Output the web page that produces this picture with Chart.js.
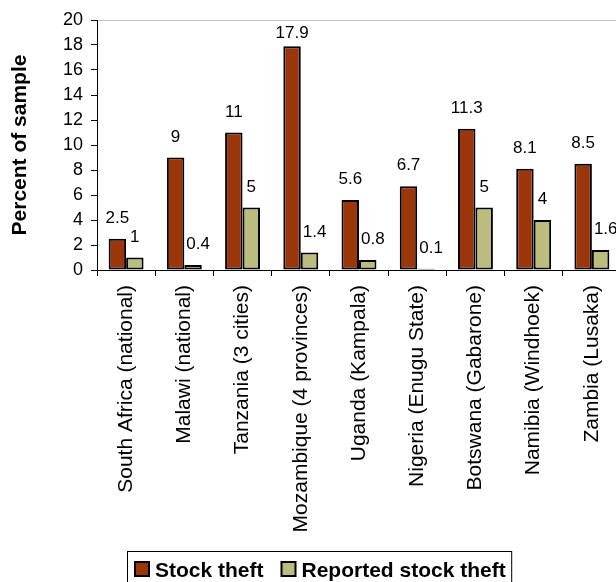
<!DOCTYPE html>
<html lang="en">
<head>
    <meta charset="UTF-8">
    <title>Stock theft by survey</title>
    <style>
        * {
            margin: 0;
            padding: 0;
            box-sizing: border-box;
        }
        body {
            width: 616px;
            height: 582px;
            overflow: hidden;
            background-color: #fff;
        }
        .wrap {
            width: 640px;
            height: 582px;
        }
    </style>
</head>
<body>
    <div class="wrap">
        <canvas id="theftChart" width="640" height="582"></canvas>
    </div>

    <script src="https://cdn.jsdelivr.net/npm/chart.js"></script>
    <script>
        const categories = [
            'South Africa (national)',
            'Malawi (national)',
            'Tanzania (3 cities)',
            'Mozambique (4 provinces)',
            'Uganda (Kampala)',
            'Nigeria (Enugu State)',
            'Botswana (Gabarone)',
            'Namibia (Windhoek)',
            'Zambia (Lusaka)'
        ];
        const stockTheft = [2.5, 9, 11, 17.9, 5.6, 6.7, 11.3, 8.1, 8.5];
        const reportedTheft = [1, 0.4, 5, 1.4, 0.8, 0.1, 5, 4, 1.6];
        const yTicks = [0, 2, 4, 6, 8, 10, 12, 14, 16, 18, 20];

        const FONT = '"Liberation Sans", Arial, sans-serif';

        // value labels above each bar
        const valueLabels = {
            id: 'valueLabels',
            afterDatasetsDraw(chart) {
                const ctx = chart.ctx;
                const top = chart.chartArea.top;
                ctx.save();
                ctx.font = '17px ' + FONT;
                ctx.fillStyle = '#000';
                ctx.textAlign = 'left';
                ctx.textBaseline = 'alphabetic';
                chart.data.datasets.forEach((ds, i) => {
                    chart.getDatasetMeta(i).data.forEach((bar, j) => {
                        const text = String(ds.data[j]);
                        const w = ctx.measureText(text).width;
                        let x = bar.x - w / 2;
                        if (i === 1 && w > bar.width) x = bar.x - bar.width / 2 + 2;
                        const y = Math.max(bar.y - 16, top + 18);
                        ctx.fillText(text, x, y);
                    });
                });
                ctx.restore();
            }
        };

        // boxed legend under the axis labels
        const boxLegend = {
            id: 'boxLegend',
            afterDraw(chart) {
                const ctx = chart.ctx;
                const left = 127.5, boxTop = 551.5, size = 14;
                let x = 135;
                ctx.save();
                ctx.font = 'bold 21px ' + FONT;
                ctx.textBaseline = 'alphabetic';
                chart.data.datasets.forEach(ds => {
                    ctx.fillStyle = ds.backgroundColor;
                    ctx.fillRect(x, 562, size, size);
                    ctx.lineWidth = 2;
                    ctx.strokeStyle = '#000';
                    ctx.strokeRect(x, 562, size, size);
                    x += size + 6;
                    ctx.fillStyle = '#000';
                    ctx.fillText(ds.label, x, 577);
                    x += ctx.measureText(ds.label).width + 18;
                });
                const right = x - 18 + 6;
                ctx.lineWidth = 1;
                ctx.strokeStyle = '#000';
                ctx.strokeRect(left, boxTop, right - left, 60);
                ctx.restore();
            }
        };

        const ctx = document.getElementById('theftChart').getContext('2d');
        const theftChart = new Chart(ctx, {
            type: 'bar',
            data: {
                labels: categories,
                datasets: [{
                    label: 'Stock theft',
                    data: stockTheft,
                    backgroundColor: '#9a360a',
                    borderColor: '#000',
                    borderWidth: 2,
                    borderSkipped: false,
                    categoryPercentage: 0.6,
                    barPercentage: 1
                }, {
                    label: 'Reported stock theft',
                    data: reportedTheft,
                    backgroundColor: '#bbbc7e',
                    borderColor: '#000',
                    borderWidth: 2,
                    borderSkipped: false,
                    categoryPercentage: 0.6,
                    barPercentage: 1
                }]
            },
            options: {
                responsive: false,
                animation: false,
                layout: {
                    padding: { top: 20, right: 19, bottom: 0, left: 0 }
                },
                plugins: {
                    legend: { display: false },
                    tooltip: { enabled: false }
                },
                scales: {
                    x: {
                        afterFit: s => { s.height = 312; },
                        grid: {
                            offset: true,
                            drawOnChartArea: false,
                            color: 'transparent',
                            tickColor: '#000',
                            tickLength: 6
                        },
                        border: { color: '#000', width: 1 },
                        ticks: {
                            autoSkip: false,
                            minRotation: 90,
                            maxRotation: 90,
                            padding: 9,
                            color: '#000',
                            font: { family: FONT, size: 21 }
                        }
                    },
                    y: {
                        min: 0,
                        max: 20,
                        afterFit: s => { s.width = 97; },
                        afterBuildTicks: s => { s.ticks = yTicks.map(v => ({ value: v })); },
                        grid: {
                            color: c => (c.tick && c.tick.value === 20 ? '#c9c1b9' : 'transparent'),
                            tickColor: '#000',
                            tickLength: 6
                        },
                        border: { color: '#000', width: 1 },
                        ticks: {
                            padding: 8,
                            color: '#000',
                            font: { family: FONT, size: 18 }
                        },
                        title: {
                            display: true,
                            text: 'Percent of sample',
                            color: '#000',
                            padding: { top: 8, bottom: 0 },
                            font: { family: FONT, size: 21, weight: 'bold' }
                        }
                    }
                }
            },
            plugins: [valueLabels, boxLegend]
        });
    </script>
</body>
</html>
